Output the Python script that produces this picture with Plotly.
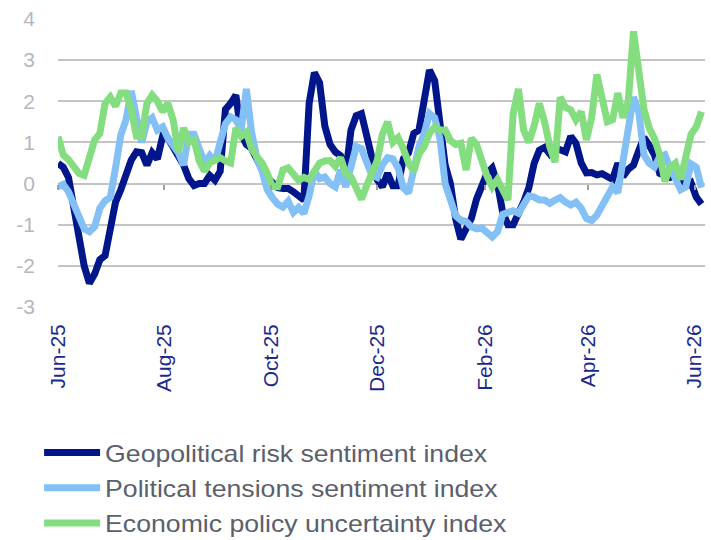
import pandas as pd
import plotly.graph_objects as go

# Observations every three days from 1 June 2025
dates = pd.date_range("2025-06-01", periods=124, freq="3D")

geopolitical_risk = [
    0.49, 0.40, 0.15, -0.60, -1.35, -2.00, -2.42, -2.20, -1.85, -1.75,
    -1.10, -0.45, -0.15, 0.25, 0.57, 0.77, 0.75, 0.45, 0.75, 0.60,
    1.15, 1.10, 0.90, 0.70, 0.45, 0.12, -0.05, 0.00, 0.00, 0.20,
    0.08, 0.30, 1.80, 1.95, 2.15, 1.20, 0.95, 0.85, 0.55, 0.35,
    0.15, 0.05, -0.10, -0.12, -0.12, -0.20, -0.33, -0.40, 1.95, 2.70,
    2.45, 1.40, 0.95, 0.77, 0.68, 0.24, 1.30, 1.65, 1.70, 1.20,
    0.70, 0.10, -0.08, 0.25, -0.05, -0.05, 0.60, 0.75, 1.22, 1.30,
    2.03, 2.76, 2.50, 1.30, 0.45, 0.00, -0.85, -1.35, -1.14, -0.85,
    -0.38, -0.10, 0.25, 0.38, 0.00, -0.70, -1.00, -1.00, -0.75, -0.45,
    -0.10, 0.49, 0.81, 0.88, 0.72, 0.86, 0.82, 0.77, 1.15, 0.98,
    0.50, 0.26, 0.27, 0.21, 0.24, 0.16, 0.10, 0.49, 0.17, 0.35,
    0.45, 0.80, 1.12, 0.93, 0.70, 0.25, 0.20, 0.15, 0.20, 0.15,
    -0.06, 0.02, -0.33, -0.50,
]

political_tensions = [
    -0.08, -0.02, -0.20, -0.56, -0.80, -1.10, -1.17, -1.05, -0.60, -0.42,
    -0.33, 0.38, 1.18, 1.55, 2.25, 1.60, 1.00, 1.50, 1.60, 1.30,
    1.38, 1.10, 0.95, 0.75, 0.45, 1.20, 1.20, 0.80, 0.50, 0.68,
    0.52, 1.00, 1.45, 1.62, 1.55, 1.30, 2.30, 1.25, 0.62, 0.30,
    -0.15, -0.35, -0.50, -0.57, -0.43, -0.70, -0.58, -0.73, -0.30, 0.30,
    0.12, 0.16, 0.00, -0.08, 0.33, -0.08, 0.40, 0.90, 0.85, 0.55,
    0.20, 0.15, 0.45, 0.63, 0.60, 0.38, -0.10, -0.23, 0.35, 0.90,
    1.22, 1.70, 1.60, 1.10, 0.00, -0.45, -0.78, -0.89, -0.92, -1.05,
    -1.10, -1.08, -1.20, -1.30, -1.17, -0.75, -0.70, -0.66, -0.72, -0.50,
    -0.30, -0.33, -0.40, -0.40, -0.48, -0.40, -0.34, -0.45, -0.52, -0.45,
    -0.60, -0.85, -0.90, -0.77, -0.52, -0.33, -0.08, -0.22, 0.60, 1.30,
    2.10, 1.75, 0.70, 0.49, 0.40, 0.65, 0.70, 0.38, 0.10, -0.15,
    -0.08, 0.48, 0.40, -0.10,
]

economic_policy = [
    1.14, 0.70, 0.58, 0.38, 0.25, 0.20, 0.68, 1.06, 1.22, 1.95,
    2.10, 1.88, 2.20, 2.20, 1.80, 1.15, 1.15, 1.95, 2.15, 2.00,
    1.75, 1.95, 1.55, 0.77, 1.35, 1.00, 1.06, 0.55, 0.30, 0.50,
    0.57, 0.63, 0.55, 0.50, 1.35, 1.15, 1.25, 0.85, 0.66, 0.50,
    0.25, -0.08, -0.08, 0.33, 0.38, 0.20, 0.08, 0.15, 0.10, 0.30,
    0.50, 0.55, 0.56, 0.42, 0.63, 0.24, 0.16, -0.10, -0.38, -0.05,
    0.30, 0.55, 1.20, 1.50, 1.00, 1.12, 0.85, 0.50, 0.30, 0.72,
    0.90, 1.22, 1.38, 1.30, 1.30, 1.05, 0.95, 0.98, 0.33, 1.10,
    0.95, 0.50, 0.18, -0.08, 0.10, -0.15, -0.40, 1.70, 2.30, 1.30,
    1.00, 1.40, 1.95, 1.50, 0.90, 0.52, 2.10, 1.85, 1.79, 1.55,
    1.75, 1.06, 1.60, 2.65, 2.10, 1.50, 1.55, 2.20, 1.60, 2.00,
    3.70, 2.60, 1.80, 1.35, 1.10, 0.70, 0.05, 0.40, 0.50, 0.10,
    0.65, 1.20, 1.38, 1.75,
]

series_names = [
    "Geopolitical risk sentiment index",
    "Political tensions sentiment index",
    "Economic policy uncertainty index",
]
series_values = [geopolitical_risk, political_tensions, economic_policy]
series_colors = ["#00168A", "#82C0F6", "#84DE80"]

tick_dates = ["2025-06-01", "2025-08-01", "2025-10-01", "2025-12-01",
              "2026-02-01", "2026-04-01", "2026-06-01"]
tick_labels = ["Jun-25", "Aug-25", "Oct-25", "Dec-25", "Feb-26", "Apr-26", "Jun-26"]

y_ticks = [-3, -2, -1, 0, 1, 2, 3, 4]
y_tick_labels = ["-3", "-2", "-1", "0", "1", "2", "3", "4"]

x_range = ["2025-06-01", "2026-06-07"]
y_range = [-3, 4]

fig = go.Figure()
for i, (name, vals, col) in enumerate(zip(series_names, series_values, series_colors)):
    fig.add_trace(go.Scatter(
        x=dates, y=vals, name=name, mode="lines",
        line=dict(color=col, width=7),
        legendgroup=f"g{i}",
    ))

# invisible helper so the tick-only axis crossing at zero gets drawn
fig.add_trace(go.Scatter(
    x=tick_dates, y=[0] * len(tick_dates), xaxis="x2", mode="markers",
    marker=dict(opacity=0), showlegend=False, hoverinfo="skip",
))

font_family = "Liberation Sans, Arial, sans-serif"

fig.update_layout(
    width=711, height=540,
    margin=dict(l=58, r=6, t=19, b=233, autoexpand=False),
    plot_bgcolor="white", paper_bgcolor="white",
    showlegend=True,
    legend=dict(
        orientation="v",
        x=0.055, xref="container", xanchor="left",
        y=0.203, yref="container", yanchor="top",
        font=dict(family=font_family, size=24, color="#5A606C"),
        itemwidth=56,
        tracegroupgap=1,
        bgcolor="rgba(0,0,0,0)",
    ),
    xaxis=dict(
        type="date", range=x_range,
        tickvals=tick_dates, ticktext=tick_labels,
        tickangle=-90,
        tickfont=dict(family=font_family, size=21, color="#1C2A8C"),
        showgrid=False, zeroline=False, showline=False,
        ticks="", ticklabelstandoff=12,
    ),
    xaxis2=dict(
        type="date", range=x_range, overlaying="x",
        anchor="free", position=(0 - y_range[0]) / (y_range[1] - y_range[0]),
        tickvals=tick_dates, showticklabels=False,
        ticks="outside", ticklen=5, tickwidth=1.5, tickcolor="#A0A0A0",
        showgrid=False, zeroline=False, showline=False,
    ),
    yaxis=dict(
        range=y_range, tickvals=y_ticks, ticktext=y_tick_labels,
        tickfont=dict(family=font_family, size=21, color="#B4B8BE"),
        showgrid=True, gridcolor="#C4C4C4", gridwidth=2,
        zeroline=False, showline=False,
        ticks="", ticklabelstandoff=22,
    ),
)

# widen the legend labels slightly so they span the same width as the
# broad lettering of the original legend; drop the legend clip box so the
# widened text is not cut
stretch_js = """
var gd = document.getElementById('{plot_id}');
function widenLegend() {
  gd.querySelectorAll('.legend [clip-path]').forEach(function (e) {
    e.removeAttribute('clip-path');
  });
  gd.querySelectorAll('.legendtext').forEach(function (t) {
    if (t.getAttribute('data-widened')) return;
    var w = t.getComputedTextLength();
    t.setAttribute('textLength', (w * 1.11).toFixed(1));
    t.setAttribute('lengthAdjust', 'spacingAndGlyphs');
    t.setAttribute('data-widened', '1');
  });
}
widenLegend();
gd.on('plotly_afterplot', widenLegend);
"""

fig.write_html("out.html", post_script=stretch_js)
